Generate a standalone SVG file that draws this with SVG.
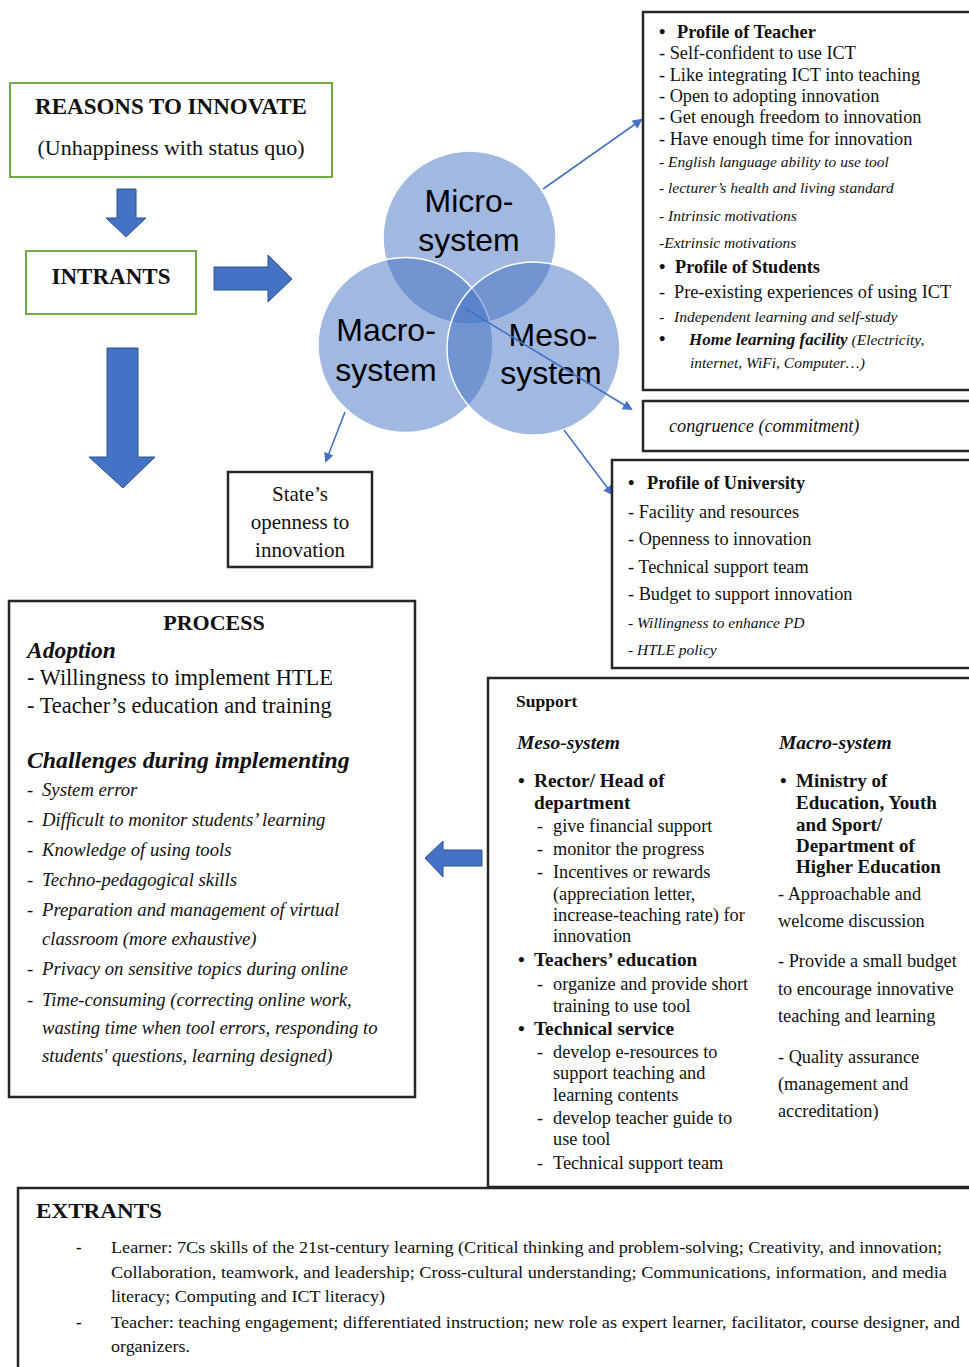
<svg xmlns="http://www.w3.org/2000/svg" width="969" height="1367" viewBox="0 0 969 1367">
<style>
text{font-family:"Liberation Serif","Times New Roman",serif;fill:#111}
.b{font-weight:bold}
.i{font-style:italic}
.bi{font-weight:bold;font-style:italic}
.gbox{fill:#fff;stroke:#70AD47;stroke-width:2}
.kbox{fill:#fff;stroke:#262626;stroke-width:2.5}
.blk{fill:#4472C4;stroke:#2F528F;stroke-width:1}
.circ{fill:#4472C4;fill-opacity:0.5;stroke:#fff;stroke-width:1.5}
.ct{font-family:"Liberation Sans",Arial,sans-serif;font-size:32px;fill:#000}
.con{stroke:#4472C4;stroke-width:1.6;fill:none;marker-end:url(#ah)}
.t18{font-size:18.3px}
.t15{font-size:15.5px}
.s18{font-size:18.3px}
.sb{font-size:18.8px}
.p22{font-size:22.4px}
.p20{font-size:18.7px}
</style>
<defs>
<marker id="ah" markerWidth="10" markerHeight="10" refX="8" refY="5" orient="auto" markerUnits="userSpaceOnUse" viewBox="0 0 10 10">
<path d="M0,0 L10,5 L0,10 Z" fill="#4472C4"/>
</marker>
</defs>

<g id="reasons">
<rect class="gbox" x="10" y="83" width="322" height="94"/>
<text class="b" x="171" y="114" font-size="23" text-anchor="middle">REASONS TO INNOVATE</text>
<text x="171" y="155" font-size="22" text-anchor="middle">(Unhappiness with status quo)</text>
</g>

<g id="intrants">
<rect class="gbox" x="26" y="251" width="170" height="63"/>
<text class="b" x="111" y="284" font-size="23" text-anchor="middle">INTRANTS</text>
</g>

<g id="block-arrows">
<path class="blk" d="M117,189 H136 V218 H146 L126,237 L106,218 H117 Z"/>
<path class="blk" d="M214,267 H268 V255 L292,279 L268,302 V290 H214 Z"/>
<path class="blk" d="M107,348 H138 V457 H155 L123,488 L89,457 H107 Z"/>
<path class="blk" d="M482,850 V866 H443 V877 L425,858 L443,841 V850 Z"/>
</g>

<g id="venn">
<circle class="circ" cx="469.5" cy="237.5" r="86.5"/>
<circle class="circ" cx="405.5" cy="345" r="87.5"/>
<circle class="circ" cx="533.5" cy="348.5" r="86.5"/>
<text class="ct" x="469" y="212" text-anchor="middle">Micro-</text>
<text class="ct" x="469" y="251" text-anchor="middle">system</text>
<text class="ct" x="386" y="341" text-anchor="middle">Macro-</text>
<text class="ct" x="386" y="381" text-anchor="middle">system</text>
<text class="ct" x="553" y="346" text-anchor="middle">Meso-</text>
<text class="ct" x="551" y="384" text-anchor="middle">system</text>
</g>

<g id="connectors">
<line class="con" x1="543" y1="189" x2="641" y2="120"/>
<line class="con" x1="466" y1="309" x2="631" y2="409"/>
<line class="con" x1="345" y1="412" x2="326" y2="461"/>
<line class="con" x1="564" y1="430" x2="612" y2="494"/>
</g>

<g id="teacher-profile">
<rect class="kbox" x="643" y="12" width="340" height="378"/>
<text class="b t18" x="659" y="38">•<tspan x="677">Profile of Teacher</tspan></text>
<text class="t18" x="659" y="59">- Self-confident to use ICT</text>
<text class="t18" x="659" y="81">- Like integrating ICT into teaching</text>
<text class="t18" x="659" y="102">- Open to adopting innovation</text>
<text class="t18" x="659" y="123">- Get enough freedom to innovation</text>
<text class="t18" x="659" y="145">- Have enough time for innovation</text>
<text class="i t15" x="659" y="167">- English language ability to use tool</text>
<text class="i t15" x="659" y="193">- lecturer’s health and living standard</text>
<text class="i t15" x="659" y="221">- Intrinsic motivations</text>
<text class="i t15" x="659" y="248">-Extrinsic motivations</text>
<text class="b t18" x="659" y="273">•<tspan x="675">Profile of Students</tspan></text>
<text class="t18" x="659" y="298">-<tspan x="674">Pre-existing experiences of using ICT</tspan></text>
<text class="i t15" x="659" y="322">-<tspan x="674">Independent learning and self-study</tspan></text>
<text class="t18" x="659" y="345"><tspan class="b">•</tspan><tspan x="689" class="bi" font-size="17">Home learning facility</tspan><tspan class="i" font-size="15.5"> (Electricity,</tspan></text>
<text class="i t15" x="690" y="368">internet, WiFi, Computer…)</text>
</g>

<g id="congruence">
<rect class="kbox" x="643" y="401" width="340" height="50"/>
<text class="i" x="669" y="432" font-size="18.2">congruence (commitment)</text>
</g>

<g id="university-profile">
<rect class="kbox" x="612" y="460" width="370" height="208"/>
<text class="b t18" x="628" y="489">•<tspan x="647">Profile of University</tspan></text>
<text class="t18" x="628" y="518">- Facility and resources</text>
<text class="t18" x="628" y="545">- Openness to innovation</text>
<text class="t18" x="628" y="573">- Technical support team</text>
<text class="t18" x="628" y="600">- Budget to support innovation</text>
<text class="i t15" x="628" y="628">- Willingness to enhance PD</text>
<text class="i t15" x="628" y="655">- HTLE policy</text>
</g>

<g id="state">
<rect class="kbox" x="228" y="472" width="144" height="95"/>
<text x="300" y="501" font-size="21" text-anchor="middle">State’s</text>
<text x="300" y="529" font-size="21" text-anchor="middle">openness to</text>
<text x="300" y="557" font-size="21" text-anchor="middle">innovation</text>
</g>

<g id="process">
<rect class="kbox" x="9" y="601" width="406" height="496"/>
<text class="b" x="214" y="630" font-size="22" text-anchor="middle">PROCESS</text>
<text class="bi" x="27" y="658" font-size="23.5">Adoption</text>
<text class="p22" x="27" y="685">- Willingness to implement HTLE</text>
<text class="p22" x="27" y="713">- Teacher’s education and training</text>
<text class="bi" x="27" y="768" font-size="23.8">Challenges during implementing</text>
<text class="p20" x="27" y="796">-<tspan class="i" x="42">System error</tspan></text>
<text class="p20" x="27" y="826">-<tspan class="i" x="42">Difficult to monitor students’ learning</tspan></text>
<text class="p20" x="27" y="856">-<tspan class="i" x="42">Knowledge of using tools</tspan></text>
<text class="p20" x="27" y="886">-<tspan class="i" x="42">Techno-pedagogical skills</tspan></text>
<text class="p20" x="27" y="916">-<tspan class="i" x="42">Preparation and management of virtual</tspan></text>
<text class="i p20" x="42" y="945">classroom (more exhaustive)</text>
<text class="p20" x="27" y="975">-<tspan class="i" x="42">Privacy on sensitive topics during online</tspan></text>
<text class="p20" x="27" y="1006">-<tspan class="i" x="42">Time-consuming (correcting online work,</tspan></text>
<text class="i p20" x="42" y="1034">wasting time when tool errors, responding to</text>
<text class="i p20" x="42" y="1062">students' questions, learning designed)</text>
</g>

<g id="support">
<rect class="kbox" x="488" y="678" width="495" height="509"/>
<text class="b" x="516" y="707" font-size="17.5">Support</text>
<text class="bi" x="517" y="749" font-size="19.5">Meso-system</text>
<text class="bi" x="779" y="749" font-size="19.5">Macro-system</text>
<text class="b" x="518" y="787" font-size="19.3">•<tspan x="534">Rector/ Head of</tspan></text>
<text class="b" x="534" y="809" font-size="19.3">department</text>
<text class="s18" x="537" y="832">-<tspan x="553">give financial support</tspan></text>
<text class="s18" x="537" y="855">-<tspan x="553">monitor the progress</tspan></text>
<text class="s18" x="537" y="878">-<tspan x="553">Incentives or rewards</tspan></text>
<text class="s18" x="553" y="900">(appreciation letter,</text>
<text class="s18" x="553" y="921">increase-teaching rate) for</text>
<text class="s18" x="553" y="942">innovation</text>
<text class="b" x="518" y="966" font-size="19.3">•<tspan x="534">Teachers’ education</tspan></text>
<text class="s18" x="537" y="990">-<tspan x="553">organize and provide short</tspan></text>
<text class="s18" x="553" y="1012">training to use tool</text>
<text class="b" x="518" y="1035" font-size="19.3">•<tspan x="534">Technical service</tspan></text>
<text class="s18" x="537" y="1058">-<tspan x="553">develop e-resources to</tspan></text>
<text class="s18" x="553" y="1079">support teaching and</text>
<text class="s18" x="553" y="1101">learning contents</text>
<text class="s18" x="537" y="1124">-<tspan x="553">develop teacher guide to</tspan></text>
<text class="s18" x="553" y="1145">use tool</text>
<text class="s18" x="537" y="1169">-<tspan x="553">Technical support team</tspan></text>
<text class="b" x="780" y="787" font-size="19">•<tspan x="796">Ministry of</tspan></text>
<text class="b" x="796" y="809" font-size="19">Education, Youth</text>
<text class="b" x="796" y="831" font-size="19">and Sport/</text>
<text class="b" x="796" y="852" font-size="19">Department of</text>
<text class="b" x="796" y="873" font-size="19">Higher Education</text>
<text class="s18" x="778" y="900">- Approachable and</text>
<text class="s18" x="778" y="927">welcome discussion</text>
<text class="s18" x="778" y="967">- Provide a small budget</text>
<text class="s18" x="778" y="995">to encourage innovative</text>
<text class="s18" x="778" y="1022">teaching and learning</text>
<text class="s18" x="778" y="1063">- Quality assurance</text>
<text class="s18" x="778" y="1090">(management and</text>
<text class="s18" x="778" y="1117">accreditation)</text>
</g>

<g id="extrants">
<rect class="kbox" x="18" y="1188" width="965" height="190"/>
<text class="b" x="36" y="1218" font-size="21" textLength="126" lengthAdjust="spacingAndGlyphs">EXTRANTS</text>
<text class="b" x="76" y="1253" font-size="17">-</text>
<text x="111" y="1253" font-size="17" textLength="831" lengthAdjust="spacingAndGlyphs">Learner: 7Cs skills of the 21st-century learning (Critical thinking and problem-solving; Creativity, and innovation;</text>
<text x="111" y="1278" font-size="17" textLength="836" lengthAdjust="spacingAndGlyphs">Collaboration, teamwork, and leadership; Cross-cultural understanding; Communications, information, and media</text>
<text x="111" y="1302" font-size="17" textLength="274" lengthAdjust="spacingAndGlyphs">literacy; Computing and ICT literacy)</text>
<text class="b" x="76" y="1328" font-size="17">-</text>
<text x="111" y="1328" font-size="17" textLength="849" lengthAdjust="spacingAndGlyphs">Teacher: teaching engagement; differentiated instruction; new role as expert learner, facilitator, course designer, and</text>
<text x="111" y="1352" font-size="17" textLength="79" lengthAdjust="spacingAndGlyphs">organizers.</text>
</g>
</svg>
